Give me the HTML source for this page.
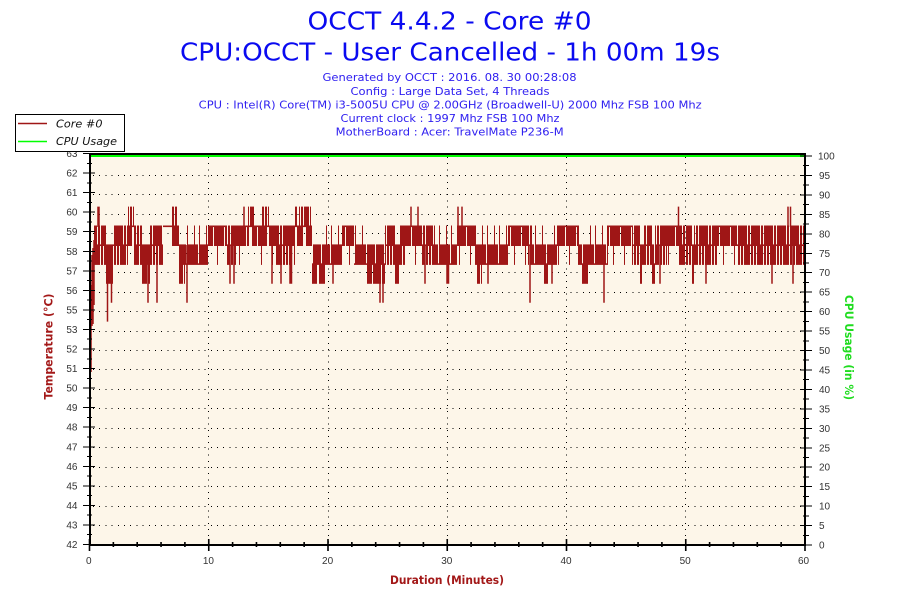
<!DOCTYPE html>
<html>
<head>
<meta charset="utf-8">
<style>
html,body{margin:0;padding:0;background:#ffffff;}
svg{display:block;}
.t{font-family:"DejaVu Sans","Liberation Sans",sans-serif;}
.tk{font-family:"Liberation Sans","DejaVu Sans",sans-serif;font-size:10px;fill:#333333;}
</style>
</head>
<body>
<svg width="900" height="600" viewBox="0 0 900 600" xmlns="http://www.w3.org/2000/svg">
<defs>
<pattern id="pA" patternUnits="userSpaceOnUse" x="0" y="0" width="13" height="600">
<g fill="#9f1616">
<rect x="0" y="225.5" width="2" height="39.4"/>
<rect x="2" y="225.5" width="1" height="20.5"/>
<rect x="3" y="225.5" width="3" height="39.4"/>
<rect x="6" y="244.4" width="1" height="20.5"/>
<rect x="7" y="225.5" width="2" height="39.4"/>
<rect x="9" y="244.4" width="1" height="1.6"/>
<rect x="10" y="225.5" width="2" height="39.4"/>
<rect x="12" y="225.5" width="1" height="20.5"/>
</g>
</pattern>
<pattern id="pB" patternUnits="userSpaceOnUse" x="0" y="0" width="11" height="600">
<g fill="#9f1616">
<rect x="0" y="225.5" width="4" height="20.5"/>
<rect x="4" y="225.5" width="1" height="1.6"/>
<rect x="5" y="225.5" width="3" height="20.5"/>
<rect x="8" y="225.5" width="1" height="39.4"/>
<rect x="9" y="225.5" width="2" height="20.5"/>
</g>
</pattern>
<pattern id="pC" patternUnits="userSpaceOnUse" x="0" y="0" width="12" height="600">
<g fill="#9f1616">
<rect x="0" y="244.4" width="2" height="20.5"/>
<rect x="2" y="225.5" width="1" height="39.4"/>
<rect x="3" y="244.4" width="3" height="20.5"/>
<rect x="6" y="263.3" width="1" height="1.6"/>
<rect x="7" y="225.5" width="1" height="39.4"/>
<rect x="8" y="244.4" width="4" height="20.5"/>
</g>
</pattern>
<pattern id="pD" patternUnits="userSpaceOnUse" x="0" y="0" width="9" height="600">
<g fill="#9f1616">
<rect x="0" y="244.4" width="3" height="39.4"/>
<rect x="3" y="244.4" width="1" height="20.5"/>
<rect x="4" y="244.4" width="2" height="39.4"/>
<rect x="6" y="263.3" width="1" height="20.5"/>
<rect x="7" y="244.4" width="2" height="39.4"/>
</g>
</pattern>
<pattern id="pE" patternUnits="userSpaceOnUse" x="0" y="0" width="9" height="600">
<g fill="#9f1616">
<rect x="0" y="206.6" width="3" height="39.4"/>
<rect x="3" y="225.5" width="1" height="20.5"/>
<rect x="4" y="206.6" width="2" height="39.4"/>
<rect x="6" y="225.5" width="1" height="1.6"/>
<rect x="7" y="206.6" width="2" height="20.5"/>
</g>
</pattern>
</defs>

<rect x="0" y="0" width="900" height="600" fill="#ffffff"/>

<!-- Titles -->
<text class="t" x="449.5" y="29.5" text-anchor="middle" font-size="24.5" fill="#0a0af0" textLength="284" lengthAdjust="spacingAndGlyphs">OCCT 4.4.2 - Core #0</text>
<text class="t" x="450" y="60.5" text-anchor="middle" font-size="24.5" fill="#0a0af0" textLength="540" lengthAdjust="spacingAndGlyphs">CPU:OCCT - User Cancelled - 1h 00m 19s</text>
<text class="t" x="449.5" y="81" text-anchor="middle" font-size="11" fill="#3020f0" textLength="254" lengthAdjust="spacingAndGlyphs">Generated by OCCT : 2016. 08. 30 00:28:08</text>
<text class="t" x="450" y="95" text-anchor="middle" font-size="11" fill="#3020f0" textLength="199" lengthAdjust="spacingAndGlyphs">Config : Large Data Set, 4 Threads</text>
<text class="t" x="450.2" y="108.5" text-anchor="middle" font-size="11" fill="#3020f0" textLength="503" lengthAdjust="spacingAndGlyphs">CPU : Intel(R) Core(TM) i3-5005U CPU @ 2.00GHz (Broadwell-U) 2000 Mhz FSB 100 Mhz</text>
<text class="t" x="450" y="122" text-anchor="middle" font-size="11" fill="#3020f0" textLength="219" lengthAdjust="spacingAndGlyphs">Current clock : 1997 Mhz FSB 100 Mhz</text>
<text class="t" x="449.7" y="135.5" text-anchor="middle" font-size="11" fill="#3020f0" textLength="228" lengthAdjust="spacingAndGlyphs">MotherBoard : Acer: TravelMate P236-M</text>

<!-- Plot background -->
<rect x="90" y="154" width="715" height="391" fill="#fdf6e9"/>

<!-- Dotted grid -->
<g stroke="#000000" stroke-width="1" stroke-dasharray="1 5.2" shape-rendering="crispEdges" fill="none">
<path d="M93 525.5H804M93 506.5H804M93 486.5H804M93 467.5H804M93 447.5H804M93 428.5H804M93 408.5H804M93 389.5H804M93 369.5H804M93 350.5H804M93 331.5H804M93 311.5H804M93 292.5H804M93 272.5H804M93 253.5H804M93 233.5H804M93 214.5H804M93 194.5H804M93 175.5H804"/>
<path d="M208.5 157V544M328.5 157V544M447.5 157V544M566.5 157V544M685.5 157V544"/>
</g>

<!-- CPU usage line -->
<path d="M90 156H805" stroke="#00ff00" stroke-width="2" fill="none"/>

<!-- Temperature series: bands -->
<g>
<rect x="94" y="200" width="12" height="110" fill="url(#pA)"/>
<rect x="106" y="200" width="7" height="110" fill="url(#pD)"/>
<rect x="113" y="200" width="15" height="110" fill="url(#pA)"/>
<rect x="128" y="200" width="6" height="110" fill="url(#pE)"/>
<rect x="134" y="200" width="8" height="110" fill="url(#pA)"/>
<rect x="142" y="200" width="8" height="110" fill="url(#pD)"/>
<rect x="150" y="200" width="13" height="110" fill="url(#pA)"/>
<rect x="163" y="225.5" width="9" height="1.6" fill="#9f1616"/>
<rect x="172" y="200" width="5" height="110" fill="url(#pE)"/>
<rect x="177" y="200" width="2" height="110" fill="url(#pB)"/>
<rect x="179" y="200" width="6" height="110" fill="url(#pD)"/>
<rect x="185" y="200" width="23" height="110" fill="url(#pC)"/>
<rect x="208" y="200" width="19" height="110" fill="url(#pB)"/>
<rect x="227" y="200" width="10" height="110" fill="url(#pA)"/>
<rect x="237" y="200" width="11" height="110" fill="url(#pB)"/>
<rect x="248" y="200" width="6" height="110" fill="url(#pE)"/>
<rect x="254" y="200" width="8" height="110" fill="url(#pB)"/>
<rect x="262" y="200" width="7" height="110" fill="url(#pE)"/>
<rect x="269" y="200" width="6" height="110" fill="url(#pB)"/>
<rect x="275" y="200" width="17" height="110" fill="url(#pA)"/>
<rect x="292" y="200" width="3" height="110" fill="url(#pB)"/>
<rect x="295" y="200" width="2" height="110" fill="url(#pE)"/>
<rect x="297" y="200" width="2" height="110" fill="url(#pB)"/>
<rect x="299" y="200" width="12" height="110" fill="url(#pE)"/>
<rect x="311" y="200" width="1" height="110" fill="url(#pB)"/>
<rect x="312" y="200" width="5" height="110" fill="url(#pD)"/>
<rect x="317" y="200" width="1" height="110" fill="url(#pC)"/>
<rect x="318" y="200" width="7" height="110" fill="url(#pD)"/>
<rect x="325" y="200" width="17" height="110" fill="url(#pC)"/>
<rect x="342" y="200" width="12" height="110" fill="url(#pB)"/>
<rect x="354" y="200" width="13" height="110" fill="url(#pC)"/>
<rect x="367" y="200" width="18" height="110" fill="url(#pD)"/>
<rect x="385" y="200" width="10" height="110" fill="url(#pA)"/>
<rect x="395" y="200" width="5" height="110" fill="url(#pD)"/>
<rect x="400" y="200" width="5" height="110" fill="url(#pA)"/>
<rect x="405" y="200" width="17" height="110" fill="url(#pB)"/>
<rect x="422" y="200" width="11" height="110" fill="url(#pA)"/>
<rect x="433" y="200" width="24" height="110" fill="url(#pC)"/>
<rect x="457" y="200" width="18" height="110" fill="url(#pB)"/>
<rect x="475" y="200" width="2" height="110" fill="url(#pC)"/>
<rect x="477" y="200" width="5" height="110" fill="url(#pD)"/>
<rect x="482" y="200" width="26" height="110" fill="url(#pC)"/>
<rect x="508" y="200" width="20" height="110" fill="url(#pB)"/>
<rect x="528" y="200" width="4" height="110" fill="url(#pA)"/>
<rect x="532" y="200" width="12" height="110" fill="url(#pC)"/>
<rect x="544" y="200" width="4" height="110" fill="url(#pD)"/>
<rect x="548" y="200" width="9" height="110" fill="url(#pC)"/>
<rect x="557" y="200" width="21" height="110" fill="url(#pB)"/>
<rect x="578" y="200" width="4" height="110" fill="url(#pC)"/>
<rect x="582" y="200" width="6" height="110" fill="url(#pD)"/>
<rect x="588" y="200" width="20" height="110" fill="url(#pC)"/>
<rect x="608" y="200" width="24" height="110" fill="url(#pB)"/>
<rect x="632" y="200" width="8" height="110" fill="url(#pA)"/>
<rect x="640" y="200" width="3" height="110" fill="url(#pD)"/>
<rect x="643" y="200" width="9" height="110" fill="url(#pA)"/>
<rect x="652" y="200" width="3" height="110" fill="url(#pD)"/>
<rect x="655" y="200" width="12" height="110" fill="url(#pA)"/>
<rect x="667" y="200" width="11" height="110" fill="url(#pB)"/>
<rect x="678" y="200" width="14" height="110" fill="url(#pA)"/>
<rect x="692" y="200" width="2" height="110" fill="url(#pD)"/>
<rect x="694" y="200" width="23" height="110" fill="url(#pA)"/>
<rect x="717" y="200" width="20" height="110" fill="url(#pB)"/>
<rect x="737" y="200" width="67" height="110" fill="url(#pA)"/>
</g>
<!-- Temperature series: start ramp, spikes and dips -->
<g stroke="#9f1616" stroke-width="1.5" fill="none">
<path d="M90 387.5V300M91 372V285M92 326V255M93 324V248M94 305V240"/>
<path d="M98 206.6V227M99 206.6V227M244 206.6V227M411 206.6V227M418 206.6V227M458 206.6V227M462 206.6V227M678.5 206.6V227M788 206.6V227M790.5 206.6V227"/>
<path d="M107.5 245V321.6M111.5 245V302.7M148 245V302.7M157 245V302.7M187 245V302.7M380 245V302.7M383 245V302.7M530 245V302.7M604 245V302.7"/>
<path d="M230 245V283.8M234 245V283.8M272 245V283.8M281 245V283.8M290 245V283.8M291.5 245V283.8M333 245V283.8M425 245V283.8M447 245V283.8M448.5 245V283.8M488 245V283.8M552 245V283.8M660 245V283.8M706 245V283.8M772 245V283.8M793 245V283.8"/>
</g>

<!-- Frame -->
<rect x="90" y="154" width="715" height="391" fill="none" stroke="#000000" stroke-width="2"/>

<!-- Ticks -->
<g stroke="#000000" stroke-width="1" shape-rendering="crispEdges" fill="none">
<path d="M83 544.5H95M83 524.95H95M83 505.4H95M83 485.85H95M83 466.3H95M83 446.75H95M83 427.2H95M83 407.65H95M83 388.1H95M83 368.55H95M83 349H95M83 329.45H95M83 309.9H95M83 290.35H95M83 270.8H95M83 251.25H95M83 231.7H95M83 212.15H95M83 192.6H95M83 173.05H95M83 153.5H95"/>
<path d="M87 534.7H92M87 515.2H92M87 495.6H92M87 476.1H92M87 456.5H92M87 437H92M87 417.4H92M87 397.9H92M87 378.3H92M87 358.8H92M87 339.2H92M87 319.7H92M87 300.1H92M87 280.6H92M87 261H92M87 241.5H92M87 221.9H92M87 202.4H92M87 182.8H92M87 163.3H92"/>
<path d="M800 545H812M800 525.55H812M800 506.1H812M800 486.65H812M800 467.2H812M800 447.75H812M800 428.3H812M800 408.85H812M800 389.4H812M800 369.95H812M800 350.5H812M800 331.05H812M800 311.6H812M800 292.15H812M800 272.7H812M800 253.25H812M800 233.8H812M800 214.35H812M800 194.9H812M800 175.45H812M800 156H812"/>
<path d="M803 535.3H809M803 515.8H809M803 496.4H809M803 476.9H809M803 457.5H809M803 438H809M803 418.6H809M803 399.1H809M803 379.7H809M803 360.2H809M803 340.8H809M803 321.3H809M803 301.9H809M803 282.4H809M803 263H809M803 243.5H809M803 224.1H809M803 204.6H809M803 185.2H809M803 165.7H809"/>
</g>
<g stroke="#000000" stroke-width="1.6" fill="none">
<path d="M89.5 539V551M208.75 539V551M328 539V551M447.25 539V551M566.5 539V551M685.75 539V551M805 539V551"/>
<path d="M113.35 542V547M137.2 542V547M161.05 542V547M184.9 542V547M232.6 542V547M256.45 542V547M280.3 542V547M304.15 542V547M351.85 542V547M375.7 542V547M399.55 542V547M423.4 542V547M471.1 542V547M494.95 542V547M518.8 542V547M542.65 542V547M590.35 542V547M614.2 542V547M638.05 542V547M661.9 542V547M709.6 542V547M733.45 542V547M757.3 542V547M781.15 542V547"/>
</g>

<!-- Left tick labels -->
<g class="tk" text-anchor="end">
<text x="77.5" y="548">42</text>
<text x="77.5" y="528.5">43</text>
<text x="77.5" y="509">44</text>
<text x="77.5" y="489.4">45</text>
<text x="77.5" y="469.8">46</text>
<text x="77.5" y="450.3">47</text>
<text x="77.5" y="430.7">48</text>
<text x="77.5" y="411.2">49</text>
<text x="77.5" y="391.6">50</text>
<text x="77.5" y="372.1">51</text>
<text x="77.5" y="352.5">52</text>
<text x="77.5" y="333">53</text>
<text x="77.5" y="313.4">55</text>
<text x="77.5" y="293.9">56</text>
<text x="77.5" y="274.3">57</text>
<text x="77.5" y="254.8">58</text>
<text x="77.5" y="235.2">59</text>
<text x="77.5" y="215.7">60</text>
<text x="77.5" y="196.1">61</text>
<text x="77.5" y="176.6">62</text>
<text x="77.5" y="157">63</text>
</g>

<!-- Right tick labels -->
<g class="tk" text-anchor="start">
<text x="819" y="548.5">0</text>
<text x="819" y="529">5</text>
<text x="819" y="509.6">10</text>
<text x="819" y="490.2">15</text>
<text x="819" y="470.7">20</text>
<text x="819" y="451.3">25</text>
<text x="819" y="431.8">30</text>
<text x="819" y="412.4">35</text>
<text x="819" y="392.9">40</text>
<text x="819" y="373.5">45</text>
<text x="819" y="354">50</text>
<text x="819" y="334.6">55</text>
<text x="819" y="315.1">60</text>
<text x="819" y="295.7">65</text>
<text x="819" y="276.2">70</text>
<text x="819" y="256.8">75</text>
<text x="819" y="237.3">80</text>
<text x="819" y="217.9">85</text>
<text x="819" y="198.4">90</text>
<text x="819" y="179">95</text>
<text x="818" y="159.5">100</text>
</g>

<!-- Bottom tick labels -->
<g class="tk" text-anchor="middle">
<text x="88.8" y="564">0</text>
<text x="208.4" y="564">10</text>
<text x="327.6" y="564">20</text>
<text x="446.8" y="564">30</text>
<text x="566" y="564">40</text>
<text x="685.2" y="564">50</text>
<text x="803.5" y="564">60</text>
</g>

<!-- Axis titles -->
<text class="t" x="0" y="0" transform="translate(52.5,346.5) rotate(-90)" text-anchor="middle" font-size="11.5" font-weight="bold" fill="#a31818" textLength="106" lengthAdjust="spacingAndGlyphs">Temperature (°C)</text>
<text class="t" x="0" y="0" transform="translate(845,347.5) rotate(90)" text-anchor="middle" font-size="11.5" font-weight="bold" fill="#1fdc1f" textLength="105" lengthAdjust="spacingAndGlyphs">CPU Usage (in %)</text>
<text class="t" x="447" y="584" text-anchor="middle" font-size="11.5" font-weight="bold" fill="#a31818" textLength="114" lengthAdjust="spacingAndGlyphs">Duration (Minutes)</text>

<!-- Legend -->
<rect x="15.5" y="114.5" width="109" height="37" fill="#ffffff" stroke="#000000" stroke-width="1"/>
<path d="M18 123.5H47" stroke="#9f1616" stroke-width="1.5"/>
<path d="M18 141.5H47" stroke="#00ff00" stroke-width="1.5"/>
<text class="t" x="56" y="127.3" font-size="11" font-style="italic" fill="#111111" textLength="46.5" lengthAdjust="spacingAndGlyphs">Core #0</text>
<text class="t" x="56" y="145" font-size="11" font-style="italic" fill="#111111" textLength="61" lengthAdjust="spacingAndGlyphs">CPU Usage</text>
</svg>
</body>
</html>
